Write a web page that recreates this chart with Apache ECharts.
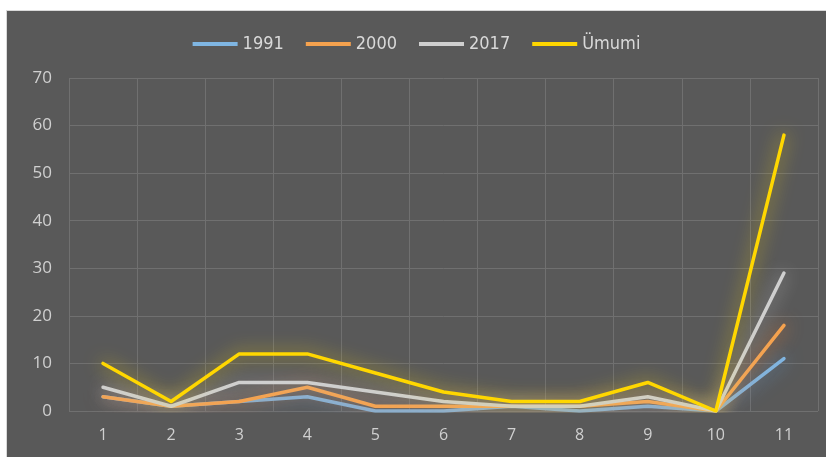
<!DOCTYPE html>
<html><head><meta charset="utf-8">
<script src="https://cdn.jsdelivr.net/npm/echarts@6/dist/echarts.min.js"></script>
<style>
html,body{margin:0;padding:0;background:#fff;}
#wrap{position:relative;width:826px;height:457px;background:#fff;overflow:hidden;}
#chart{position:absolute;left:6px;top:10px;width:820px;height:447px;background:#595959;border-left:1px solid #d9d9d9;border-top:1px solid #d9d9d9;box-sizing:border-box;}
</style></head>
<body><div id="wrap"><div id="chart"></div></div>
<script>
const categories = ['1','2','3','4','5','6','7','8','9','10','11'];
const s1991 = [3,1,2,3,0,0,1,0,1,0,11];
const s2000 = [3,1,2,5,1,1,1,1,2,0,18];
const s2017 = [5,1,6,6,4,2,1,1,3,0,29];
const sUmumi = [10,2,12,12,8,4,2,2,6,0,58];
const yTicks = {min:0,max:70,interval:10};

const chart = echarts.init(document.getElementById('chart'), null, {renderer:'canvas'});
function mk(name, data, color, glow){
  return {name, type:'line', data, symbol:'none', smooth:false,
    lineStyle:{color, width:3.5, cap:'round', join:'round', shadowBlur:18, shadowColor:glow},
    itemStyle:{color}};
}
chart.setOption({
  backgroundColor:'transparent',
  animation:false,
  legend:{top:19, left:'center', itemWidth:45, itemHeight:4, itemGap:22,
    icon:'rect',
    textStyle:{color:'#d9d9d9', fontSize:18, fontFamily:'"Liberation Sans Narrow", "DejaVu Sans Condensed", sans-serif'},
    data:['1991','2000','2017','Ümumi']},
  grid:{left:62, right:8, top:67, bottom:46, containLabel:false},
  xAxis:{type:'category', data:categories, boundaryGap:true,
    axisLine:{show:false}, axisTick:{show:false},
    axisLabel:{color:'#d0d0d0', fontSize:16, margin:16, fontFamily:'"Open Sans", sans-serif'},
    splitLine:{show:true, interval:0, lineStyle:{color:'#707070', width:1}}},
  yAxis:{type:'value', min:yTicks.min, max:yTicks.max, interval:yTicks.interval,
    axisLine:{show:false}, axisTick:{show:false},
    axisLabel:{color:'#d0d0d0', fontSize:17, margin:17, fontFamily:'"Open Sans", sans-serif'},
    splitLine:{lineStyle:{color:'#707070', width:1}}},
  series:[
    mk('1991', s1991, '#7fb6e3', 'rgba(91,155,213,0.9)'),
    mk('2000', s2000, '#f5a24e', 'rgba(237,125,49,0.9)'),
    mk('2017', s2017, '#cfcfcf', 'rgba(200,200,200,0.8)'),
    mk('Ümumi', sUmumi, '#ffd700', 'rgba(255,220,0,0.75)')
  ]
});
</script></body></html>
